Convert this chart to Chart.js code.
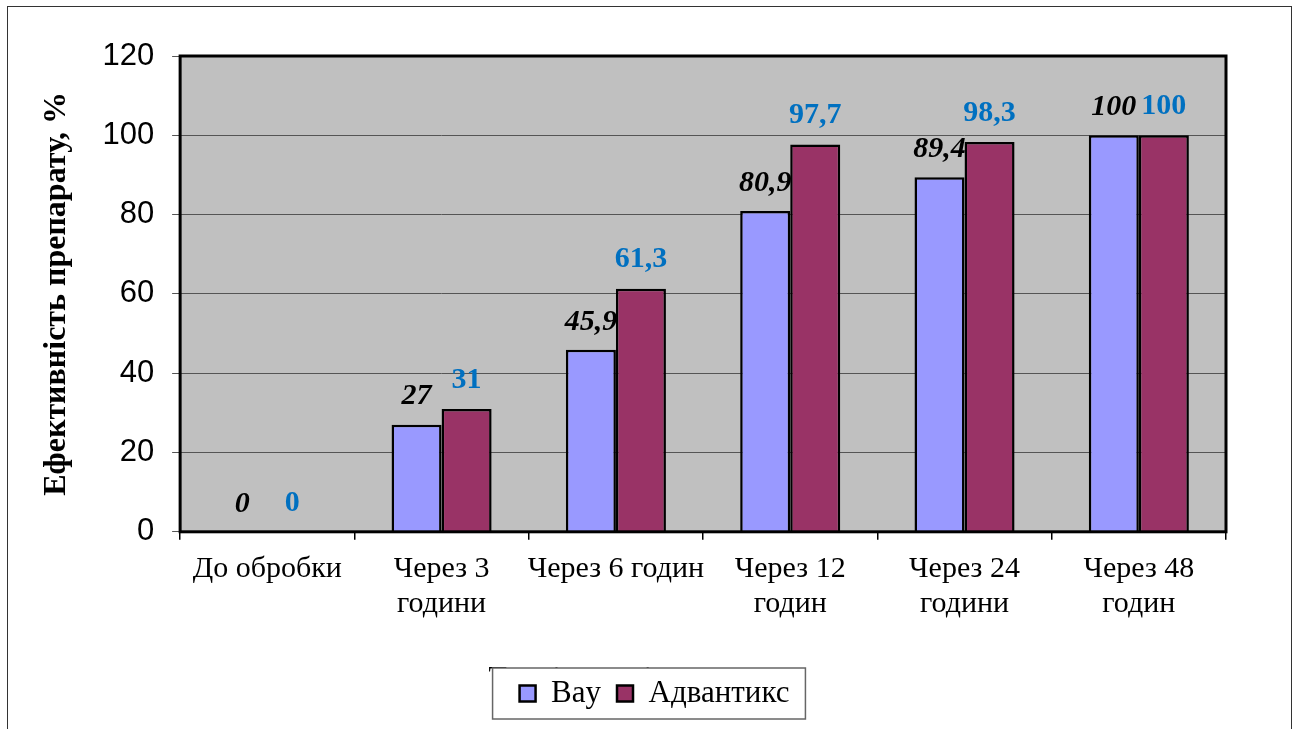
<!DOCTYPE html>
<html>
<head>
<meta charset="utf-8">
<script src="https://cdn.jsdelivr.net/npm/chart.js@4/dist/chart.umd.min.js"></script>
<style>
  body { margin: 0; background: #fff; }
  .frame { position: absolute; left: 7px; top: 6px; width: 1283px; height: 760px; border: 1px solid #333; }
  .box { position: relative; width: 1283px; height: 722px; }
</style>
</head>
<body>
<div class="frame">
  <div class="box"><canvas id="chart"></canvas></div>
</div>
<script>
const labels = [['До обробки'], ['Через 3', 'години'], ['Через 6 годин'], ['Через 12', 'годин'], ['Через 24', 'години'], ['Через 48', 'годин']];
const bay = [0, 27, 45.9, 80.9, 89.4, 100];
const advantix = [0, 31, 61.3, 97.7, 98.3, 100];
const yTicks = [0, 20, 40, 60, 80, 100, 120];

const serif = '"Liberation Serif", "Times New Roman", serif';
const sans = '"Liberation Sans", Arial, sans-serif';

// labels above bars
const valueLabels = {
  id: 'valueLabels',
  afterDatasetsDraw(chart) {
    const ctx = chart.ctx;
    ctx.save();
    ctx.textAlign = 'center';
    ctx.textBaseline = 'bottom';
    chart.data.datasets.forEach((ds, i) => {
      chart.getDatasetMeta(i).data.forEach((bar, j) => {
        ctx.font = ds.labelFont;
        ctx.fillStyle = ds.labelColor;
        ctx.fillText(String(ds.data[j]).replace('.', ','), bar.x, bar.y - ds.labelGap);
      });
    });
    // plot border
    const a = chart.chartArea;
    ctx.strokeStyle = '#000';
    ctx.lineWidth = 3;
    ctx.strokeRect(a.left, a.top, a.right - a.left, a.bottom - a.top);
    ctx.restore();
  }
};

// plot background, hidden x title, legend frame
const backdrop = {
  id: 'backdrop',
  afterLayout(chart) {
    // centre legend on the whole canvas
    chart.legend.left = 5;
    chart.legend.right = chart.width + 5;
  },
  beforeDraw(chart) {
    const ctx = chart.ctx;
    const a = chart.chartArea;
    ctx.save();
    ctx.fillStyle = '#c0c0c0';
    ctx.fillRect(a.left, a.top, a.right - a.left, a.bottom - a.top);
    const hb = chart.legend.legendHitBoxes;
    const l = Math.min(...hb.map(h => h.left)) - 27;
    const r = Math.max(...hb.map(h => h.left + h.width)) + 16;
    const t = hb[0].top - 10;
    const b = hb[0].top + hb[0].height + 10;
    ctx.fillStyle = '#000';
    ctx.font = '30px ' + serif;
    ctx.textAlign = 'left';
    ctx.textBaseline = 'top';
    ctx.fillText('Термін дослідження', l - 4, t - 5);
    ctx.fillStyle = '#fff';
    ctx.fillRect(l, t, r - l, b - t);
    ctx.strokeStyle = '#666';
    ctx.lineWidth = 1.5;
    ctx.strokeRect(l, t, r - l, b - t);
    ctx.restore();
  }
};

new Chart(document.getElementById('chart'), {
  type: 'bar',
  data: {
    labels: labels,
    datasets: [{
      label: 'Bay',
      data: bay,
      backgroundColor: '#9999ff',
      borderColor: '#000',
      borderWidth: 2.5,
      labelFont: 'italic bold 30px ' + serif,
      labelColor: '#000',
      labelGap: 13
    }, {
      label: 'Адвантикс',
      data: advantix,
      backgroundColor: '#993366',
      borderColor: '#000',
      borderWidth: 2.5,
      labelFont: 'bold 30px ' + serif,
      labelColor: '#0070c0',
      labelGap: 14
    }]
  },
  options: {
    responsive: true,
    maintainAspectRatio: false,
    animation: false,
    layout: { padding: { top: 49, right: 65, left: 30, bottom: 10 } },
    datasets: { bar: { categoryPercentage: 0.574, barPercentage: 1 } },
    plugins: {
      legend: {
        position: 'bottom',
        labels: {
          color: '#000',
          font: { family: serif, size: 31 },
          boxWidth: 16,
          boxHeight: 16,
          padding: 16
        }
      },
      tooltip: { enabled: false }
    },
    scales: {
      x: {
        grid: { display: true, drawOnChartArea: false, color: '#000', lineWidth: 1.5, tickLength: 8, offset: true },
        border: { display: false },
        ticks: { color: '#000', font: { family: serif, size: 30, lineHeight: 1.17 }, padding: 12, maxRotation: 0, autoSkip: false },
        afterFit: s => { s.height += 28; }
      },
      y: {
        min: 0,
        max: 120,
        afterBuildTicks: s => { s.ticks = yTicks.map(v => ({ value: v })); },
        grid: { color: '#555', lineWidth: 1, tickLength: 8 },
        border: { display: false },
        ticks: { color: '#000', font: { family: sans, size: 31 }, padding: 18 },
        title: { display: true, text: 'Ефективність препарату, %', color: '#000', font: { family: serif, size: 32, weight: 'bold' }, padding: { top: 0, bottom: 8 } }
      }
    }
  },
  plugins: [backdrop, valueLabels]
});
</script>
</body>
</html>
